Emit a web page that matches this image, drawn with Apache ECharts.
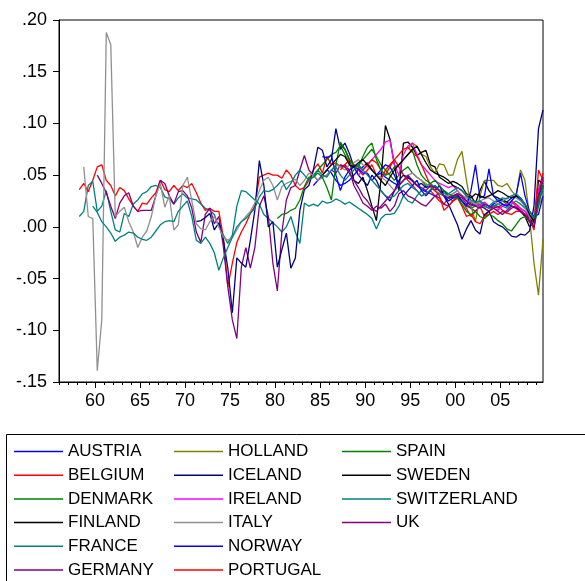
<!DOCTYPE html>
<html><head><meta charset="utf-8">
<script src="https://cdn.jsdelivr.net/npm/echarts@6/dist/echarts.min.js"></script>
<style>html,body{margin:0;padding:0;background:#fff}#c{width:585px;height:581px}</style>
</head><body><div id="c"></div>
<script>
// Half-year observations (t = start, start+0.5, ...)
const AUSTRIA_START = 1984.25;
const AUSTRIA = [
 .04,.045, .05,.055, .052,.045, .04,.042, .045,.05,
 .055,.058, .062,.055, .05,.052, .048,.045, .042,.04,
 .045,.048, .044,.04, .036,.034, .032,.03, .032,.035,
 .03,.028, .032,.03, .025,.02, .022,.025, .02,.018,
 .022,.025, .026,.024, .028,.03, .026,.02, .01,.005,
 .03,.04];
const BELGIUM_START = 1958.25;
const BELGIUM = [
 .036,.042, .034,.045, .058,.06, .045,.04, .03,.038,
 .035,.027, .02,.015, .023,.022, .028,.033, .045,.036,
 .034,.04, .035,.04, .038,.042, .033,.023, .016,.018,
 .015,.015, -.01,-.058, -.035,-.015, -.005,.003, .013,.02,
 .048,.05, .052,.05, .05,.047, .055,.05, .04,.036,
 .038,.045, .055,.061, .052,.068, .06,.062, .058,.06,
 .055,.058, .055,.05, .055,.06, .05,.045, .055,.06,
 .065,.058, .05,.045, .04,.035, .03,.032, .035,.03,
 .025,.022, .028,.03, .032,.025, .018,.01, .015,.02,
 .01,.015, .02,.018, .022,.02, .025,.022, .018,.015,
 .008,-.003, .035,.052];
const DENMARK_START = 1984.25;
const DENMARK = [
 .05,.055, .06,.065, .07,.072, .078,.07, .062,.058,
 .06,.065, .07,.075, .068,.06, .055,.05, .045,.05,
 .055,.058, .052,.048, .045,.04, .038,.035, .032,.03,
 .028,.025, .028,.025, .02,.018, .02,.022, .018,.015,
 .02,.022, .025,.022, .02,.018, .015,.012, .008,.005,
 .025,.04];
const FINLAND_START = 1987.25;
const FINLAND = [
 .08,.075, .065,.045, .042,.048, .035,.02, .006,.045,
 .098,.085, .06,.035, .081,.082, .077,.069, .072,.074,
 .06,.058, .048,.045, .042,.044, .042,.039, .032,.03,
 .023,.035, .044,.035, .03,.028, .026,.024, .02,.019,
 .015,.01, .0,.005, .045,.042];
const FRANCE_START = 1958.25;
const FRANCE = [
 .01,.015, .04,.044, .015,.02, .035,.015, -.003,-.005,
 .013,.01, .022,.026, .032,.034, .039,.04, .038,.029,
 .027,.022, .028,.032, .028,.027, .026,.022, .018,.016,
 .012,0, -.008,-.016, -.008,.02, .035,.034, .03,.026,
 .022,.012, .008,.004, 0,-.005, 0,.01, -.005,-.016,
 .023,.02, .022,.02, .025,.023, .024,.027, .025,.022,
 .024,.021, .018,.015, .012,.008, -.002,.008, .012,.012,
 .013,.02, .03,.025, .023,.03, .035,.04, .042,.038,
 .035,.033, .03,.032, .035,.03, .028,.024, .02,.022,
 .02,.018, .02,.022, .02,.018, .022,.025, .022,.018,
 .015,.01, .025,.035];
const GERMANY_START = 1960.25;
const GERMANY = [
 .05,.042, .033,.02, .008,.023, .03,.033, .02,.015,
 .016,.016, .016,.03, .045,.042, .03,.022, .034,.035,
 .03,.018, -.005,-.015, .012,.018, .003,.01, -.019,-.058,
 -.09,-.108, -.039,-.02, -.04,-.02, .02,.03, .01,-.035,
 -.062,-.005, .026,.038, .04,.055, .069,.055, .05,.045,
 .048,.05, .055,.052, .06,.058, .055,.04, .032,.023,
 .02,.016, .02,.018, .022,.015, .02,.032, .035,.03,
 .028,.025, .022,.02, .025,.03, .028,.022, .02,.025,
 .03,.028, .022,.018, .015,.02, .018,.015, .018,.02,
 .016,.014, .018,.02, .016,.012, .008,.004, .03,.045];
const HOLLAND_START = 1994.75;
const HOLLAND = [
 .075,
 .081,.078, .07,.068, .058,.052, .061,.06, .05,.05,
 .065,.073, .045,.02, .005,.03, .045,.045, .045,.04,
 .039,.042, .035,.03, .055,.045, .01,-.035, -.066,-.012];
const ICELAND_START = 1971.25;
const ICELAND = [
 .005,.006, .009,.013, -.003,.004, -.012,-.04, -.083,-.03,
 -.035,-.039, -.013,.016, .064,.04, 0,.005, -.039,-.022,
 -.006,-.04, -.03,.016, .036,.04, .055,.077, .074,.058,
 .065,.095, .075,.081, .071,.058, .05,.045, .04,.05,
 .045,.035, .03,.025, .035,.045, .05,.048, .045,.04,
 .042,.038, .04,.035, .04,.03, .022,.012, .002,-.012,
 -.002,.006, -.003,-.007, .012,.015, .005,.002, 0,-.004,
 -.009,-.01, -.007,-.008, -.004,.02, .095,.113];
const IRELAND_START = 1989.25;
const IRELAND = [
 .05,.055, .06,.065, .07,.075, .082,.084, .06,.05,
 .07,.078, .081,.07, .06,.055, .05,.045, .042,.04,
 .038,.04, .035,.03, .028,.025, .022,.02, .024,.02,
 .018,.016, .02,.022, .024,.02, .018,.015, .01,.005,
 .035,.046];
const ITALY_START = 1958.75;
const ITALY = [
 .058,
 .01,.008, -.139,-.09, .188,.176, .01,.015, .019,.005,
 -.005,-.02, -.01,-.004, .01,.03, .042,.019, .03,-.003,
 .002,.04, .048,.025, .003,-.002, -.003,.005, .01,0,
 -.01,-.013, -.01,-.003, .005,.01, .015,.023, .035,.045,
 .048,.04, .026,.039, .042,.044, .046,.04, .045,.052,
 .05,.045, .048,.05, .055,.06, .058,.055, .06,.062,
 .065,.06, .058,.055, .05,.048, .045,.04, .035,.04,
 .045,.05, .052,.048, .045,.042, .038,.035, .033,.03,
 .03,.032, .035,.03, .028,.025, .022,.025, .027,.028,
 .025,.022, .025,.028, .03,.028, .025,.02, .01,.005,
 .02,.03];
const NORWAY_START = 1985.25;
const NORWAY = [
 .068,.067, .069,.05, .035,.048, .055,.058, .056,.052,
 .052,.045, .05,.055, .06,.058, .05,.04, .03,.035,
 .04,.045, .035,.03, .035,.04, .035,.03, .025,.028,
 .03,.025, .02,.035, .06,.028, .03,.056, .03,.025,
 .022,.02, .025,.03, .052,.03, .015,.01, .012,.03];
const PORTUGAL_START = 1987.25;
const PORTUGAL = [
 .055,.06, .065,.06, .058,.055, .06,.065, .062,.055,
 .05,.058, .065,.07, .075,.077, .072,.068, .06,.05,
 .04,.035, .03,.016, .02,.025, .028,.02, .01,.012,
 .005,.003, .01,.012, .015,.012, .015,.013, .012,.015,
 .015,.012, .005,0, .055,.045];
const SPAIN_START = 1980.25;
const SPAIN = [
 .008,.012, .013,.016, .018,.026, .039,.048, .048,.052,
 .048,.038, .026,.06, .082,.075, .065,.06, .058,.068,
 .077,.081, .065,.055, .05,.052, .058,.06, .065,.07,
 .074,.06, .05,.045, .042,.045, .04,.035, .032,.03,
 .028,.022, .015,.012, .015,.01, .008,.012, .01,.006,
 .003,-.002, -.004,.002, .008,.01, .005,0, .02,.04];
const SWEDEN_START = 1985.25;
const SWEDEN = [
 .05,.055, .06,.065, .07,.068, .06,.058, .062,.065,
 .06,.055, .05,.045, .04,.048, .055,.06, .065,.07,
 .075,.078, .07,.062, .055,.052, .05,.048, .045,.04,
 .038,.035, .03,.028, .032,.03, .028,.03, .032,.035,
 .033,.03, .028,.03, .028,.022, .012,.005, .03,.038];
const SWITZERLAND_START = 1959.75;
const SWITZERLAND = [
 .02,
 .014,.005, 0,-.006, -.014,-.01, -.008,-.005, -.006,-.01,
 -.012,-.013, -.01,-.004, .002,.005, .006,.005, .015,.02,
 .025,.01, -.013,-.016, -.01,-.016, -.025,-.042, -.03,-.02,
 -.01,0, .005,.008, .013,.018, .029,.035, .034,.036,
 .04,.045, .036,.042, .05,.055, .05,.045, .048,.055,
 .05,.048, .055,.058, .05,.045, .05,.055, .06,.055,
 .05,.045, .04,.035, .03,.028, .03,.035, .04,.042,
 .038,.035, .03,.032, .036,.04, .035,.03, .032,.035,
 .038,.035, .03,.026, .024,.025, .022,.02, .024,.026,
 .028,.027, .03,.032, .028,.022, .015,.008, .028,.038];
const UK_START = 1987.25;
const UK = [
 .06,.058, .052,.045, .038,.03, .025,.018, .015,.02,
 .025,.03, .035,.04, .045,.05, .045,.04, .038,.035,
 .04,.038, .035,.03, .028,.03, .032,.03, .025,.022,
 .02,.018, .022,.02, .018,.015, .012,.016, .02,.018,
 .015,.012, .005,0, .03,.048];

const NAMES = ['AUSTRIA','BELGIUM','DENMARK','FINLAND','FRANCE','GERMANY','HOLLAND','ICELAND',
  'IRELAND','ITALY','NORWAY','PORTUGAL','SPAIN','SWEDEN','SWITZERLAND','UK'];
const COLORS = ['#0000FF','#FF0000','#008000','#000000','#008080','#800080','#808000','#000080',
  '#FF00FF','#909090','#0000FF','#FF0000','#008000','#000000','#008080','#800080'];
const SERIES_VALUES = [AUSTRIA,BELGIUM,DENMARK,FINLAND,FRANCE,GERMANY,HOLLAND,ICELAND,
  IRELAND,ITALY,NORWAY,PORTUGAL,SPAIN,SWEDEN,SWITZERLAND,UK];
const SERIES_STARTS = [AUSTRIA_START,BELGIUM_START,DENMARK_START,FINLAND_START,FRANCE_START,GERMANY_START,
  HOLLAND_START,ICELAND_START,IRELAND_START,ITALY_START,NORWAY_START,PORTUGAL_START,SPAIN_START,
  SWEDEN_START,SWITZERLAND_START,UK_START];
const MAJOR_YEARS = [1960,1965,1970,1975,1980,1985,1990,1995,2000,2005];
const MINOR_YEARS = [];
for (let y = 1956; y <= 2009; y++) MINOR_YEARS.push(y);
const LEGEND_COLS = [
  ['AUSTRIA','BELGIUM','DENMARK','FINLAND','FRANCE','GERMANY'],
  ['HOLLAND','ICELAND','IRELAND','ITALY','NORWAY','PORTUGAL'],
  ['SPAIN','SWEDEN','SWITZERLAND','UK']];
const LEGEND_LEFT = [14, 174, 342];

const FONT = "'Liberation Sans', Arial, sans-serif";
const chart = echarts.init(document.getElementById('c'), null, {renderer:'canvas'});

const series = NAMES.map((n, k) => ({
  name: n, type: 'line', xAxisIndex: 0, yAxisIndex: 0,
  symbol: 'none', showSymbol: false, animation: false,
  color: COLORS[k],
  lineStyle: {color: COLORS[k], width: 1.3},
  data: SERIES_VALUES[k].map((v, i) => [SERIES_STARTS[k] + 0.5 * i, v])
}));

const fmtY = v => {
  const s = (Math.round(v * 100) / 100).toFixed(2);
  return s.replace(/^(-?)0\./, '$1.');
};

chart.setOption({
  animation: false,
  backgroundColor: '#fff',
  grid: {left: 59, right: 42, top: 20, bottom: 199, show: true, borderColor: '#000', borderWidth: 1, containLabel: false},
  xAxis: [{
    type: 'value', min: 1956, max: 2009.75, position: 'bottom',
    axisLine: {show: true, onZero: false, lineStyle: {color: '#000', width: 1}},
    axisTick: {show: true, length: 6, customValues: MAJOR_YEARS, lineStyle: {color: '#000'}},
    axisLabel: {customValues: MAJOR_YEARS, color: '#000', fontSize: 18, fontFamily: FONT, margin: 10,
      formatter: v => String(Math.round(v) % 100).padStart(2, '0')},
    splitLine: {show: false}
  }, {
    type: 'value', min: 1956, max: 2009.75, position: 'bottom', gridIndex: 0,
    axisLine: {show: false, onZero: false},
    axisTick: {show: true, length: 3, customValues: MINOR_YEARS, lineStyle: {color: '#000'}},
    axisLabel: {show: false},
    splitLine: {show: false}
  }],
  yAxis: {
    type: 'value', min: -0.15, max: 0.2, interval: 0.05,
    axisLine: {show: true, onZero: false, lineStyle: {color: '#000', width: 1}},
    axisTick: {show: true, length: 6, lineStyle: {color: '#000'}},
    axisLabel: {color: '#000', fontSize: 18, fontFamily: FONT, margin: 12, formatter: fmtY},
    splitLine: {show: false}
  },
  legend: LEGEND_COLS.map((col, c) => ({
    data: col, orient: 'vertical', left: LEGEND_LEFT[c], top: 443, padding: 0,
    icon: 'rect', itemWidth: 49, itemHeight: 1.5, itemGap: 6.7, selectedMode: false,
    textStyle: {color: '#000', fontSize: 17, fontFamily: FONT, lineHeight: 17}
  })),
  graphic: [{
    type: 'rect', z: -1, silent: true,
    shape: {x: 6.5, y: 434.5, width: 640, height: 200},
    style: {fill: 'none', stroke: '#000', lineWidth: 1}
  }],
  series: series
});
</script>
</body></html>
